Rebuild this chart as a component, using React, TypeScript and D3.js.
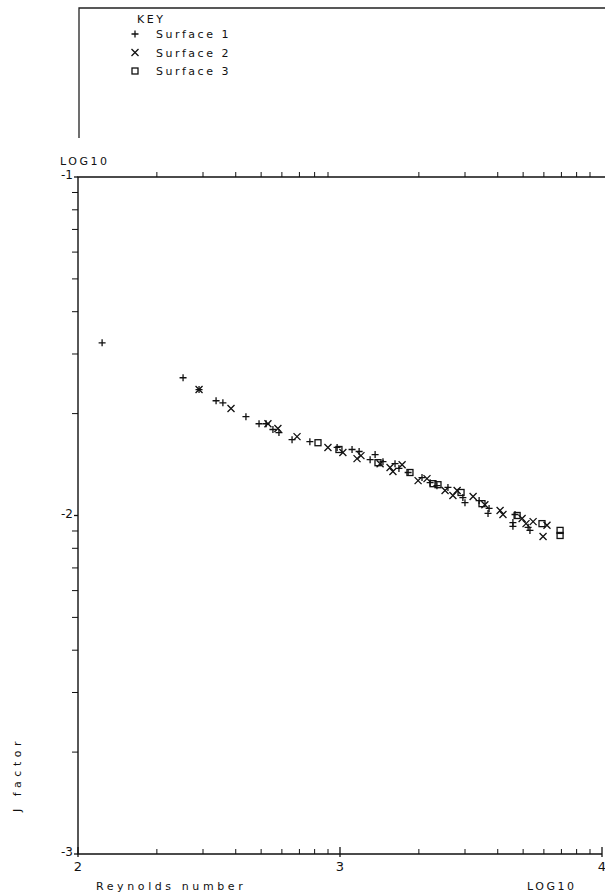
import * as d3 from "d3";

// log10 Reynolds number / log10 J factor
const s1Re = [2.092, 2.401, 2.462, 2.527, 2.553, 2.641, 2.691, 2.718, 2.744, 2.767, 2.817, 2.885, 2.989, 3.046, 3.073, 3.115, 3.134, 3.164, 3.21, 3.225, 3.26, 3.313, 3.344, 3.37, 3.412, 3.469, 3.477, 3.531, 3.569, 3.565, 3.668, 3.66, 3.66, 3.718, 3.725];
const s1J = [-1.49, -1.593, -1.628, -1.661, -1.667, -1.708, -1.729, -1.729, -1.746, -1.755, -1.776, -1.782, -1.799, -1.805, -1.811, -1.835, -1.82, -1.841, -1.847, -1.861, -1.873, -1.888, -1.903, -1.912, -1.917, -1.947, -1.962, -1.956, -1.979, -1.994, -1.997, -2.021, -2.032, -2.035, -2.044];

const s2Re = [2.462, 2.584, 2.725, 2.763, 2.836, 2.954, 3.011, 3.065, 3.08, 3.153, 3.191, 3.202, 3.237, 3.298, 3.332, 3.401, 3.431, 3.447, 3.508, 3.553, 3.611, 3.622, 3.695, 3.71, 3.737, 3.79, 3.775];
const s2J = [-1.628, -1.684, -1.729, -1.743, -1.767, -1.799, -1.814, -1.832, -1.823, -1.847, -1.858, -1.87, -1.85, -1.897, -1.891, -1.926, -1.941, -1.926, -1.944, -1.968, -1.985, -1.997, -2.009, -2.024, -2.018, -2.029, -2.062];

const s3Re = [2.916, 2.996, 3.145, 3.267, 3.355, 3.374, 3.462, 3.542, 3.676, 3.771, 3.84, 3.84];
const s3J = [-1.785, -1.805, -1.844, -1.873, -1.906, -1.909, -1.932, -1.965, -2.0, -2.024, -2.044, -2.059];

const xMajor = [2, 3, 4];
const yMajor = [-1, -2, -3];
const keyLabels = ["Surface 1", "Surface 2", "Surface 3"];

const W = 605;
const H = 894;
const font = "'DejaVu Sans', sans-serif";

function Marker({ kind, x, y }: { kind: number; x: number; y: number }) {
  const r = 3.5;
  if (kind === 0)
    return <path d={`M${x - r},${y}H${x + r}M${x},${y - r}V${y + r}`} stroke="#111" strokeWidth={1.3} fill="none" />;
  if (kind === 1)
    return <path d={`M${x - r},${y - r}L${x + r},${y + r}M${x - r},${y + r}L${x + r},${y - r}`} stroke="#111" strokeWidth={1.3} fill="none" />;
  return <rect x={x - 3} y={y - 3} width={6} height={6} stroke="#111" strokeWidth={1.3} fill="none" />;
}

export default function App() {
  const x = d3.scaleLinear().domain([2, 4]).range([78, 602]);
  const y = d3.scaleLinear().domain([-3, -1]).range([854, 177]);

  const minorX = d3.range(2, 4).flatMap(d => d3.range(2, 10).map(k => d + Math.log10(k)));
  const minorY = d3.range(-3, -1).flatMap(d => d3.range(2, 10).map(k => d + Math.log10(k)));

  const series = [
    { re: s1Re, j: s1J },
    { re: s2Re, j: s2J },
    { re: s3Re, j: s3J },
  ];

  const txt = { fontFamily: font, fontSize: 11, fill: "#111", letterSpacing: "2.5px" } as const;

  return (
    <svg width={W} height={H} style={{ position: "absolute", left: 0, top: 0, background: "#fff" }}>
      {/* key box */}
      <path d={`M79,138V8H${W}`} stroke="#222" strokeWidth={1.3} fill="none" />
      <text x={137} y={23} {...txt}>KEY</text>
      {keyLabels.map((l, i) => (
        <g key={l}>
          <Marker kind={i} x={135} y={34 + i * 18.5} />
          <text x={156} y={38 + i * 18.5} {...txt}>{l}</text>
        </g>
      ))}

      {/* frame */}
      <path d={`M${W},${y(-1)}H${x(2)}V${y(-3)}H${x(4)}`} stroke="#111" strokeWidth={1.4} fill="none" />

      {/* top ticks */}
      {minorX.map(v => (
        <line key={"t" + v} x1={x(v)} x2={x(v)} y1={y(-1)} y2={y(-1) - 5} stroke="#111" />
      ))}
      {/* bottom ticks */}
      {minorX.map(v => (
        <line key={"b" + v} x1={x(v)} x2={x(v)} y1={y(-3)} y2={y(-3) - 5} stroke="#111" />
      ))}
      {xMajor.map(v => (
        <g key={"bx" + v}>
          <line x1={x(v)} x2={x(v)} y1={y(-3) + 3} y2={y(-3) - 7} stroke="#111" strokeWidth={1.3} />
          <text x={x(v)} y={y(-3) + 17} textAnchor="middle" fontFamily={font} fontSize={13} fill="#111">{v}</text>
        </g>
      ))}
      {/* left ticks */}
      {minorY.map(v => (
        <line key={"l" + v} x1={x(2)} x2={x(2) - 6} y1={y(v)} y2={y(v)} stroke="#111" />
      ))}
      {yMajor.map(v => (
        <g key={"ly" + v}>
          <line x1={x(2)} x2={x(2) - 4} y1={y(v)} y2={y(v)} stroke="#111" strokeWidth={1.3} />
          <text x={x(2) - 5} y={y(v) + 2} textAnchor="end" fontFamily={font} fontSize={12} fill="#111">{"-" + Math.abs(v)}</text>
        </g>
      ))}

      {/* axis titles */}
      <text x={60} y={165} {...txt}>LOG10</text>
      <text x={96} y={890} {...txt} letterSpacing="3.6px">Reynolds number</text>
      <text x={527} y={890} {...txt}>LOG10</text>
      <text transform="translate(21,812) rotate(-90)" {...txt} letterSpacing="4.5px">J factor</text>

      {/* data */}
      {series.map((s, si) =>
        s.re.map((r, i) => <Marker key={si + "-" + i} kind={si} x={x(r)} y={y(s.j[i])} />)
      )}
    </svg>
  );
}
